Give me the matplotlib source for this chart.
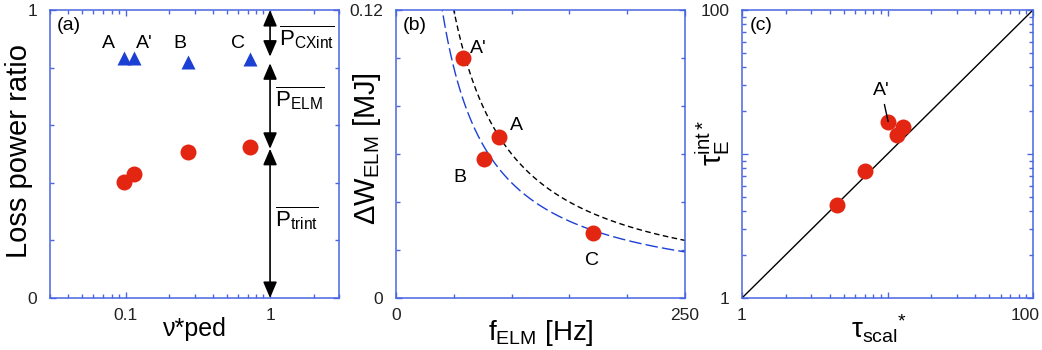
import numpy as np
import matplotlib
matplotlib.use("Agg")
import matplotlib.pyplot as plt
import matplotlib.transforms as mtransforms
from matplotlib.ticker import MultipleLocator, LogLocator, NullFormatter

plt.rcParams['font.family'] = ['Liberation Sans', 'DejaVu Sans']
plt.rcParams['mathtext.fontset'] = 'custom'
plt.rcParams['mathtext.rm'] = 'Liberation Sans'
plt.rcParams['mathtext.it'] = 'Liberation Sans:italic'
plt.rcParams['mathtext.default'] = 'regular'

RED = '#e32612'
BLUE = '#1c3fd4'
AXBLUE = '#4a66e0'

# (a) loss power ratio vs pedestal collisionality
SHOTS = ["A", "A'", "B", "C"]
NU_PED = [0.097, 0.114, 0.272, 0.73]
TRINT_RATIO = [0.404, 0.43, 0.506, 0.525]
CX_RATIO = [0.832, 0.832, 0.82, 0.83]
# split of the bar at nu*=1: (bottom, top) of each part
BAR_PARTS = [(0.0, 0.518), (0.518, 0.815), (0.838, 1.0)]
BAR_LABELS = [r'$\overline{P_{trint}}$', r'$\overline{P_{ELM}}$', r'$\overline{P_{CXint}}$']
BAR_LABEL_Y = [0.248, 0.664, 0.878]

# (b) ELM energy loss vs ELM frequency
F_ELM = [88.8, 57.7, 76.1, 170.7]
DW_ELM = [0.0672, 0.0999, 0.0578, 0.0272]
P_BLACK = 6.0   # MW, constant f*dW line
P_BLUE = 4.8

# (c) confinement time comparison
TAU_SCAL = [4.52, 7.0, 10.1, 11.6, 12.8]
TAU_INT = [4.42, 7.65, 16.8, 13.5, 15.5]

fig = plt.figure(figsize=(10.42, 3.5), dpi=100)
ax_a = fig.add_axes([50/1042, 52/350, 289/1042, 288/350])
ax_b = fig.add_axes([396/1042, 52/350, 289/1042, 288/350])
ax_c = fig.add_axes([742/1042, 52/350, 291/1042, 288/350])

for ax in (ax_a, ax_b, ax_c):
    for s in ax.spines.values():
        s.set_color(AXBLUE)
        s.set_linewidth(1.1)
    ax.tick_params(which='both', direction='in', top=True, right=True,
                   color=AXBLUE, labelcolor='#222222', labelsize=12.5, width=1)
    ax.tick_params(which='major', length=4)
    ax.tick_params(which='minor', length=3)

# ---- (a)
ax_a.set_xscale('log')
ax_a.set_xlim(0.03, 3)
ax_a.set_ylim(0, 1)
ax_a.set_xticks([0.1, 1], ['0.1', '1'])
ax_a.xaxis.set_minor_locator(LogLocator(base=10, subs=np.arange(2, 10)))
ax_a.xaxis.set_minor_formatter(NullFormatter())
ax_a.set_yticks([0, 1], ['0', '1'])
ax_a.yaxis.set_minor_locator(MultipleLocator(0.2))
ax_a.tick_params(axis='y', pad=9)
ax_a.tick_params(axis='x', pad=7)

ax_a.plot(NU_PED, TRINT_RATIO, 'o', color=RED, ms=11.5, mec='none')
ax_a.plot(NU_PED, CX_RATIO, '^', color=BLUE, ms=10.5, mec='none')
for name, x, dx in zip(SHOTS, NU_PED, [0.79, 1.04, 0.87, 0.82]):
    ha = 'left' if name == "A'" else 'center'
    ax_a.text(x * dx, 0.868, name, fontsize=14, ha=ha, va='baseline')

for (y0, y1) in BAR_PARTS:
    ax_a.annotate('', xy=(1, y1), xytext=(1, y0),
                  arrowprops=dict(arrowstyle='<|-|>,head_length=0.7,head_width=0.3',
                                  color='k', lw=1.2, shrinkA=0, shrinkB=0,
                                  mutation_scale=14), annotation_clip=False)
for lab, y, x in zip(BAR_LABELS, BAR_LABEL_Y, [1.085, 1.085, 1.15]):
    ax_a.text(x, y, lab, fontsize=16, ha='left', va='baseline', clip_on=False)

ax_a.text(0.025, 0.975, '(a)', transform=ax_a.transAxes, fontsize=14, va='top')
ax_a.set_ylabel('Loss power ratio', fontsize=21)
ax_a.yaxis.set_label_coords(-0.059, 0.51)
ax_a.set_xlabel('ν*ped', fontsize=18)
ax_a.xaxis.set_label_coords(0.5, -0.065)

# ---- (b)
ax_b.set_xlim(0, 250)
ax_b.set_ylim(0, 0.12)
ax_b.set_xticks([0, 250], ['0', '250'])
ax_b.xaxis.set_minor_locator(MultipleLocator(50))
ax_b.set_yticks([0, 0.12], ['0', '0.12'])
ax_b.yaxis.set_minor_locator(MultipleLocator(0.02))
ax_b.tick_params(axis='y', pad=9)
ax_b.tick_params(axis='x', pad=7)

f = np.linspace(30, 250, 300)
ax_b.plot(f, P_BLACK / f, color='k', lw=1, dashes=(4, 2.5))
ax_b.plot(f, P_BLUE / f, color=BLUE, lw=1, dashes=(9, 3))
ax_b.plot(F_ELM, DW_ELM, 'o', color=RED, ms=11.5, mec='none')
label_pos_b = [(98.6, 0.070), (64, 0.102), (49.6, 0.0485), (163.5, 0.01375)]
for name, (x, y) in zip(SHOTS, label_pos_b):
    ax_b.text(x, y, name, fontsize=14, ha='left', va='baseline')

ax_b.text(0.025, 0.975, '(b)', transform=ax_b.transAxes, fontsize=14, va='top')
ax_b.set_ylabel(r'ΔW$_{ELM}$ [MJ]', fontsize=21)
ax_b.yaxis.set_label_coords(-0.045, 0.52)
ax_b.set_xlabel(r'f$_{ELM}$ [Hz]', fontsize=20)
ax_b.xaxis.set_label_coords(0.5, -0.07)

# ---- (c)
ax_c.set_xscale('log')
ax_c.set_yscale('log')
ax_c.set_xlim(1, 100)
ax_c.set_ylim(1, 100)
ax_c.set_xticks([1, 10, 100], ['1', '', '100'])
ax_c.set_yticks([1, 10, 100], ['1', '', '100'])
for axis in (ax_c.xaxis, ax_c.yaxis):
    axis.set_minor_locator(LogLocator(base=10, subs=np.arange(2, 10)))
    axis.set_minor_formatter(NullFormatter())
ax_c.tick_params(axis='y', pad=9)
ax_c.tick_params(axis='x', pad=7)
# keep the last x label inside the picture
last = ax_c.get_xticklabels()[-1]
last.set_transform(last.get_transform() +
                   mtransforms.ScaledTranslation(-6/72, 0, fig.dpi_scale_trans))

ax_c.plot([1, 100], [1, 100], color='k', lw=1)
ax_c.plot(TAU_SCAL, TAU_INT, 'o', color=RED, ms=11.5, mec='none')
ax_c.annotate("A'", xy=(TAU_SCAL[2], TAU_INT[2]), xytext=(7.95, 25.7),
              fontsize=14, ha='left', va='baseline',
              arrowprops=dict(arrowstyle='-', color='k', lw=1, shrinkA=2, shrinkB=0))

ax_c.text(0.025, 0.975, '(c)', transform=ax_c.transAxes, fontsize=14, va='top')
ax_c.set_ylabel(r'$\tau_{E}^{int*}$', fontsize=21)
ax_c.yaxis.set_label_coords(-0.035, 0.54)
ax_c.set_xlabel(r'$\tau_{scal}$$^{*}$', fontsize=20)
ax_c.xaxis.set_label_coords(0.47, -0.05)

fig.savefig('out.png', dpi=100)
